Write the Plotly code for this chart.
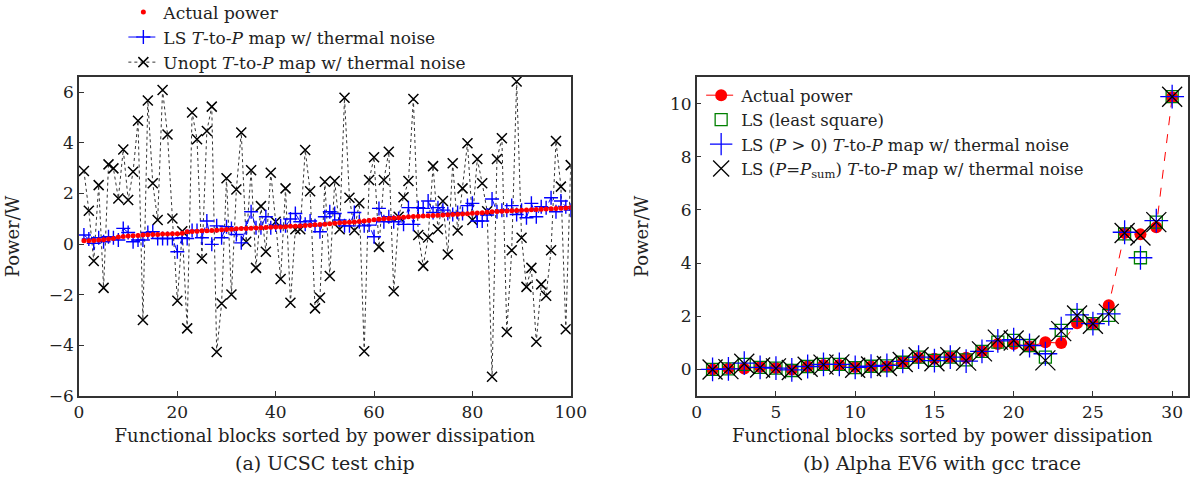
import plotly.graph_objects as go
from plotly.subplots import make_subplots

# (a) UCSC test chip, 100 blocks
blocks_a = list(range(1, 101))
actual_a = [0.13, 0.13, 0.14, 0.16, 0.17, 0.20, 0.22, 0.28, 0.30, 0.32,
            0.33, 0.34, 0.36, 0.37, 0.38, 0.38, 0.40, 0.40, 0.41, 0.41,
            0.43, 0.49, 0.50, 0.51, 0.53, 0.53, 0.54, 0.55, 0.57, 0.58,
            0.59, 0.61, 0.62, 0.62, 0.63, 0.64, 0.65, 0.66, 0.67, 0.68,
            0.68, 0.69, 0.70, 0.70, 0.71, 0.73, 0.74, 0.76, 0.77, 0.78,
            0.80, 0.82, 0.84, 0.85, 0.86, 0.87, 0.89, 0.91, 0.93, 0.96,
            0.98, 1.00, 1.01, 1.03, 1.04, 1.06, 1.08, 1.09, 1.10, 1.11,
            1.12, 1.13, 1.14, 1.15, 1.16, 1.17, 1.18, 1.19, 1.20, 1.22,
            1.23, 1.24, 1.26, 1.28, 1.29, 1.30, 1.31, 1.32, 1.33, 1.34,
            1.35, 1.36, 1.37, 1.38, 1.39, 1.40, 1.41, 1.42, 1.43, 1.45]
ls_a = [0.36, 0.20, 0.03, 0.25, 0.09, 0.29, 0.25, 0.16, 0.62, 0.46,
        0.09, 0.16, 0.16, 0.46, 0.49, 0.22, 0.22, 0.22, 0.22, -0.30,
        0.25, 0.22, 0.54, 0.54, 0.25, 0.91, -0.01, 0.72, 0.25, 0.69,
        0.62, 0.38, 0.05, 0.65, 1.28, 0.65, 0.65, 1.08, 0.65, 0.75,
        0.72, 0.72, 0.99, 1.21, 0.88, 0.78, 0.91, 0.72, 0.49, 1.08,
        1.28, 1.21, 0.95, 0.72, 0.72, 1.25, 0.88, 0.72, 0.75, 0.29,
        1.41, 0.88, 1.08, 0.88, 1.01, 0.78, 1.44, 0.78, 1.44, 1.41,
        1.70, 1.25, 1.44, 1.34, 1.21, 1.17, 1.25, 1.21, 1.52, 1.61,
        0.91, 0.91, 1.15, 1.78, 1.28, 1.34, 1.34, 1.52, 1.17, 1.34,
        1.04, 1.61, 1.08, 1.48, 1.44, 1.83, 1.28, 1.70, 1.48, 1.34]
unopt_a = [2.89, 1.32, -0.67, 2.33, -1.73, 3.15, 2.99, 1.80, 3.74, 1.74,
           2.86, 4.87, -3.00, 5.67, 2.40, 0.95, 6.09, 4.33, 1.01, -2.24,
           0.51, -3.33, 5.20, 4.14, -0.57, 4.47, 5.43, -4.26, -2.35, 2.60,
           -1.99, 2.16, 4.41, 0.09, 2.92, -0.94, 1.50, -0.30, 2.82, 0.88,
           -1.38, 2.20, -2.32, 0.59, 0.59, 3.72, 2.09, -2.54, -2.12, 2.46,
           -1.26, 2.49, 0.59, 5.78, 1.83, 0.55, 1.61, -4.23, 2.53, 3.43,
           -0.11, 2.53, 3.65, -1.86, 1.08, 1.85, 2.49, 5.73, 0.36, -0.86,
           0.26, 3.08, 0.59, 1.70, -0.41, 3.19, 0.54, 2.20, 3.98, 0.95,
           3.36, 2.40, 1.30, -5.24, 3.36, 4.18, -3.47, -0.24, 6.42, 0.25,
           -1.69, -0.94, -3.86, -1.59, -2.04, -0.24, 4.07, 2.27, -3.36, 3.12]

# (b) Alpha EV6 with gcc trace, 30 blocks
blocks_b = list(range(1, 31))
actual_b = [0.00, 0.03, 0.03, 0.09, 0.05, 0.00, 0.11, 0.17, 0.17, 0.09,
            0.11, 0.11, 0.28, 0.44, 0.40, 0.46, 0.44, 0.68, 0.96, 0.96,
            0.86, 1.02, 0.99, 1.74, 1.72, 2.41, 5.13, 5.08, 5.35, 10.24]
ls_b = [0.00, 0.02, 0.19, 0.08, 0.05, -0.04, 0.11, 0.19, 0.19, 0.07,
        0.12, 0.13, 0.27, 0.46, 0.34, 0.46, 0.36, 0.68, 1.03, 1.09,
        0.90, 0.46, 1.47, 2.03, 1.72, 2.03, 5.10, 4.20, 5.54, 10.26]
lspos_b = [0.00, 0.02, 0.24, 0.08, 0.05, -0.02, 0.11, 0.19, 0.19, 0.08,
           0.12, 0.15, 0.30, 0.46, 0.33, 0.46, 0.31, 0.68, 1.07, 1.12,
           0.90, 0.59, 1.53, 2.05, 1.72, 2.09, 5.16, 4.20, 5.60, 10.26]
lssum_b = [0.00, 0.01, 0.21, 0.07, 0.04, -0.02, 0.10, 0.18, 0.19, 0.06,
           0.11, 0.13, 0.28, 0.46, 0.31, 0.46, 0.33, 0.68, 1.12, 1.09,
           0.90, 0.34, 1.44, 2.03, 1.72, 2.09, 5.13, 5.04, 5.54, 10.26]

FONT = "DejaVu Serif"
TXT = "#222222"
FS = 17

fig = make_subplots(rows=1, cols=2)

# left panel: draw black first so the red dots sit on top
fig.add_trace(go.Scatter(
    x=blocks_a, y=unopt_a, mode="lines+markers",
    name="Unopt <i>T</i>-to-<i>P</i> map w/ thermal noise",
    line=dict(color="#333333", width=1, dash="dot"),
    marker=dict(symbol="x-thin-open", size=10, color="black",
                line=dict(color="black", width=1.5)),
    legend="legend", legendrank=3), row=1, col=1)
fig.add_trace(go.Scatter(
    x=blocks_a, y=ls_a, mode="lines+markers",
    name="LS <i>T</i>-to-<i>P</i> map w/ thermal noise",
    line=dict(color="blue", width=1, dash="dash"),
    marker=dict(symbol="cross-thin-open", size=10, color="blue",
                line=dict(color="blue", width=1.4)),
    legend="legend", legendrank=2), row=1, col=1)
fig.add_trace(go.Scatter(
    x=blocks_a, y=actual_a, mode="markers", name="Actual power",
    marker=dict(symbol="circle", size=5, color="red"),
    legend="legend", legendrank=1), row=1, col=1)

# right panel
fig.add_trace(go.Scatter(
    x=blocks_b, y=actual_b, mode="lines+markers", name="Actual power",
    line=dict(color="red", width=1, dash="dash"),
    marker=dict(symbol="circle", size=12, color="red"),
    legend="legend2"), row=1, col=2)
fig.add_trace(go.Scatter(
    x=blocks_b, y=ls_b, mode="markers", name="LS (least square)",
    marker=dict(symbol="square-open", size=12, color="green",
                line=dict(color="green", width=1.3)),
    legend="legend2"), row=1, col=2)
fig.add_trace(go.Scatter(
    x=blocks_b, y=lspos_b, mode="markers",
    name="LS (<i>P</i> > 0) <i>T</i>-to-<i>P</i> map w/ thermal noise",
    marker=dict(symbol="cross-thin-open", size=17, color="blue",
                line=dict(color="blue", width=1.3)),
    legend="legend2"), row=1, col=2)
fig.add_trace(go.Scatter(
    x=blocks_b, y=lssum_b, mode="markers",
    name="LS (<i>P</i>=<i>P</i><sub>sum</sub>) <i>T</i>-to-<i>P</i> map w/ thermal noise",
    marker=dict(symbol="x-thin-open", size=20, color="black",
                line=dict(color="black", width=1.3)),
    legend="legend2"), row=1, col=2)

axis_style = dict(showline=True, linecolor="#333333", linewidth=1.5, mirror=True,
                  ticks="inside", ticklen=5, tickcolor="#333333", showgrid=False,
                  zeroline=False, automargin=False,
                  tickfont=dict(family=FONT, size=FS, color=TXT))

fig.update_xaxes(axis_style)
fig.update_yaxes(axis_style)
title_font = dict(family=FONT, size=18, color=TXT)
fig.update_xaxes(domain=[0, 0.4434], range=[0, 100], tickvals=[0, 20, 40, 60, 80, 100],
                 title=dict(text="Functional blocks sorted by power dissipation",
                            font=title_font, standoff=8), row=1, col=1)
fig.update_yaxes(range=[-6, 6.6], tickvals=[-6, -4, -2, 0, 2, 4, 6],
                 title=dict(text="Power/W", font=title_font, standoff=24), row=1, col=1)
fig.update_xaxes(domain=[0.557, 1.0], range=[0, 31], tickvals=[0, 5, 10, 15, 20, 25, 30],
                 title=dict(text="Functional blocks sorted by power dissipation",
                            font=title_font, standoff=8), row=1, col=2)
fig.update_yaxes(range=[-1, 11], tickvals=[0, 2, 4, 6, 8, 10],
                 title=dict(text="Power/W", font=title_font, standoff=17), row=1, col=2)

caption_font = dict(family=FONT, size=19, color=TXT)
fig.update_layout(
    width=1192, height=484,
    margin=dict(l=79, r=4, t=77, b=88, autoexpand=False),
    paper_bgcolor="white", plot_bgcolor="white",
    font=dict(family=FONT, size=FS, color=TXT),
    showlegend=True,
    legend=dict(x=0.04, y=1.259, xanchor="left", yanchor="top", bgcolor="rgba(0,0,0,0)",
                font=dict(family=FONT, size=17, color=TXT), tracegroupgap=0,
                itemwidth=30),
    legend2=dict(x=0.561, y=0.997, xanchor="left", yanchor="top", bgcolor="rgba(0,0,0,0)",
                 font=dict(family=FONT, size=16.5, color=TXT), itemwidth=30),
    annotations=[
        dict(text="(a) UCSC test chip", x=0.2217, y=-0.21, xref="paper", yref="paper",
             xanchor="center", yanchor="middle", showarrow=False, font=caption_font),
        dict(text="(b) Alpha EV6 with gcc trace", x=0.7785, y=-0.21, xref="paper",
             yref="paper", xanchor="center", yanchor="middle", showarrow=False,
             font=caption_font),
    ],
)

# drop the browser's default 8px body margin so the figure sits at the page corner
fig.write_html("out.html", config={"displayModeBar": False},
               post_script="document.body.style.margin = '0px';")
